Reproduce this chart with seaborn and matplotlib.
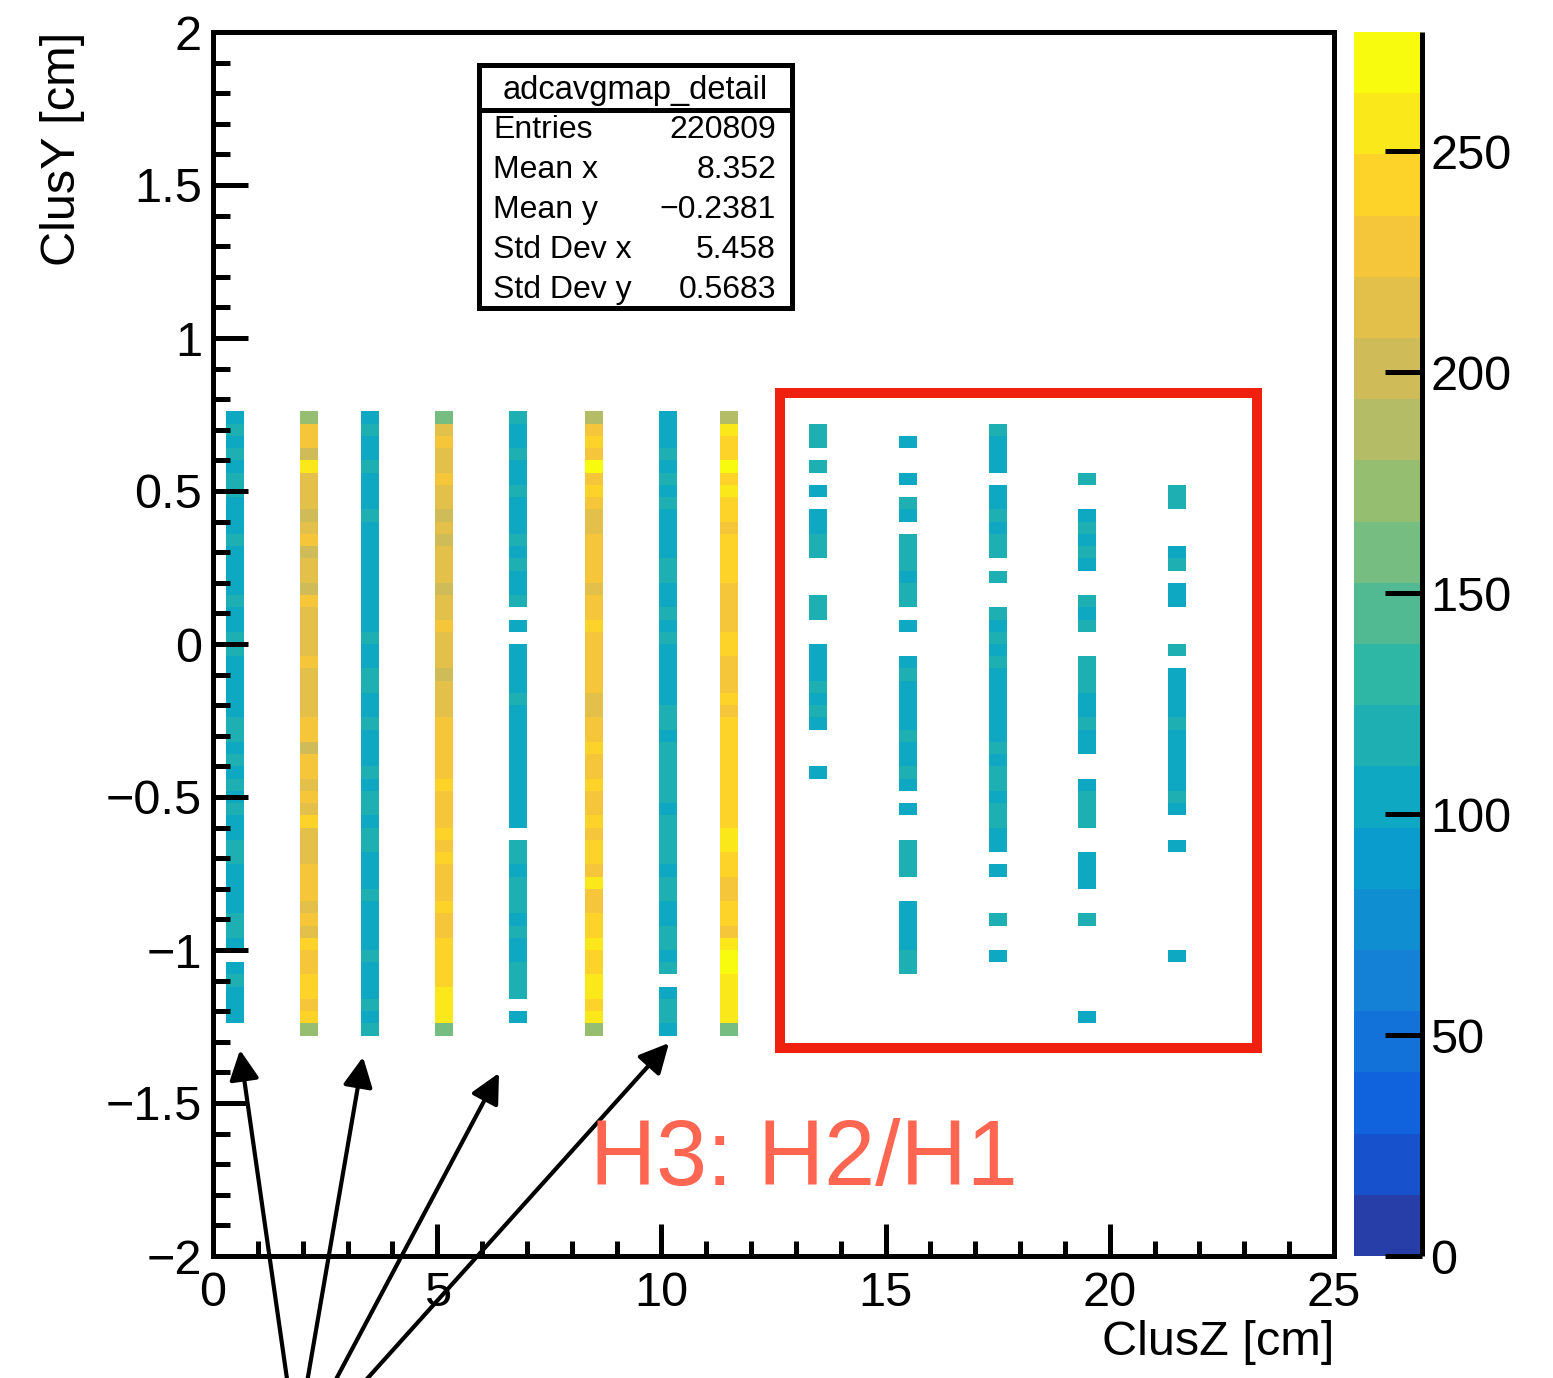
import numpy as np
import pandas as pd
import matplotlib
matplotlib.use("Agg")
import matplotlib.pyplot as plt
from matplotlib.colors import LinearSegmentedColormap, ListedColormap
from matplotlib.patches import Rectangle
from matplotlib.lines import Line2D
import seaborn as sns

NA = np.nan

# ---------------- data ----------------
# ClusZ centre of each column of hits (cm)
col_z = [0.5, 2.15, 3.5, 5.15, 6.8, 8.5, 10.15, 11.5, 13.5, 15.5, 17.5, 19.5, 21.5]
# ClusY binning: 51 bins of 0.04 cm, first bin top edge at 0.76 cm
y_top = 0.76
y_bin = 0.04

col1 = [104, 118, 104, 118, 104, 118, 118, 104, 104, 104,
        118, 104, 104, 104, 104, 118, 104, 104, 118, 118,
        104, 104, 104, 104, 104, 118, 118, 104, 118, 104,
        118, 104, 118, 104, 104, 118, 118, 104, 104, 104,
        104, 118, 118, 104, NA, 104, 118, 104, 104, 104, NA]
col2 = [173, 229, 229, 201, 256, 215, 215, 215, 201, 215,
        229, 201, 215, 215, 201, 229, 215, 215, 215, 215,
        229, 215, 215, 215, 215, 229, 229, 201, 229, 229,
        215, 229, 215, 242, 215, 215, 215, 229, 229, 229,
        215, 229, 215, 242, 229, 229, 242, 242, 229, 242, 173]
col3 = [104, 118, 104, 104, 118, 104, 104, 104, 118, 104,
        104, 104, 104, 104, 104, 104, 104, 104, 118, 104,
        104, 118, 118, 104, 104, 118, 104, 104, 104, 118,
        104, 118, 118, 104, 118, 118, 104, 104, 104, 118,
        104, 104, 104, 104, 118, 104, 104, 104, 118, 104, 118]
col4 = [159, 215, 229, 215, 215, 229, 215, 215, 201, 215,
        201, 215, 215, 215, 201, 215, 215, 229, 215, 215,
        215, 201, 215, 215, 215, 229, 229, 229, 229, 229,
        242, 229, 229, 229, 242, 229, 242, 229, 229, 229,
        242, 229, 229, 242, 242, 242, 242, 256, 256, 256, 159]
col5 = [118, 104, 104, 118, 104, 104, 118, 104, 104, 104,
        118, 104, 118, 104, 104, 118, NA, 104, NA, 104,
        104, 104, 104, 118, 104, 104, 104, 104, 104, 104,
        104, 104, 104, 104, NA, 118, 118, 104, 118, 118,
        118, 104, 118, 104, 104, 118, 118, 118, NA, 104, NA]
col6 = [187, 229, 242, 229, 270, 229, 242, 229, 215, 215,
        229, 229, 229, 229, 215, 229, 229, 242, 229, 229,
        229, 229, 229, 215, 215, 229, 229, 242, 229, 229,
        242, 229, 229, 242, 229, 242, 242, 229, 256, 229,
        229, 242, 242, 256, 242, 242, 256, 256, 242, 256, 173]
col7 = [104, 104, 104, 118, 104, 118, 104, 118, 104, 104,
        104, 104, 118, 118, 104, 104, 118, 104, 118, 104,
        104, 104, 104, 104, 118, 118, 104, 118, 118, 118,
        118, 118, 104, 118, 118, 118, 118, 104, 118, 118,
        104, 104, 118, 118, 104, 118, NA, 104, 118, 118, 104]
col8 = [187, 256, 242, 242, 270, 242, 256, 242, 242, 229,
        242, 242, 242, 242, 229, 229, 229, 229, 242, 242,
        229, 229, 229, 242, 229, 242, 242, 242, 242, 242,
        242, 242, 242, 242, 256, 256, 242, 242, 229, 229,
        242, 242, 229, 256, 270, 270, 256, 256, 256, 256, 159]
col9 = [NA, 118, 118, NA, 118, NA, 104, NA, 104, 104,
        118, 118, NA, NA, NA, 118, 118, NA, NA, 104,
        104, 104, 118, 104, 118, 104, NA, NA, NA, 104,
        NA, NA, NA, NA, NA, NA, NA, NA, NA, NA,
        NA, NA, NA, NA, NA, NA, NA, NA, NA, NA, NA]
col10 = [NA, NA, 104, NA, NA, 104, NA, 118, 104, NA,
         118, 118, 118, 104, 118, 118, NA, 104, NA, NA,
         104, 118, 104, 104, 104, 104, 118, 104, 104, 118,
         104, NA, 104, NA, NA, 118, 118, 118, NA, NA,
         104, 104, 104, 104, 118, 118, NA, NA, NA, NA, NA]
col11 = [NA, 118, 104, 104, 104, NA, 104, 104, 118, 104,
         118, 118, NA, 118, NA, NA, 118, 104, 118, 104,
         118, 104, 104, 104, 104, 104, 104, 118, 104, 118,
         118, 104, 118, 118, 104, 104, NA, 104, NA, NA,
         NA, 118, NA, NA, 104, NA, NA, NA, NA, NA, NA]
col12 = [NA, NA, NA, NA, NA, 118, NA, NA, 104, 118,
         104, 118, 104, NA, NA, 118, 104, 118, NA, NA,
         118, 118, 118, 104, 104, 118, 104, 104, NA, NA,
         104, 118, 118, 118, NA, NA, 104, 104, 104, NA,
         NA, 118, NA, NA, NA, NA, NA, NA, NA, 104, NA]
col13 = [NA, NA, NA, NA, NA, NA, 118, 118, NA, NA,
         NA, 104, 118, NA, 104, 104, NA, NA, NA, 118,
         NA, 104, 104, 104, 104, 118, 104, 104, 104, 104,
         104, 118, 104, NA, NA, 104, NA, NA, NA, NA,
         NA, NA, NA, NA, 104, NA, NA, NA, NA, NA, NA]
columns = [col1, col2, col3, col4, col5, col6, col7, col8, col9, col10, col11, col12, col13]

z_max = 277
cbar_ticks = [0, 50, 100, 150, 200, 250]
x_ticks = [0, 5, 10, 15, 20, 25]
y_ticks = [2, 1.5, 1, 0.5, 0, -0.5, -1, -1.5, -2]
y_tick_labels = ["2", "1.5", "1", "0.5", "0", "\u22120.5", "\u22121", "\u22121.5", "\u22122"]
stats_title = "adcavgmap_detail"
stats_names = ["Entries", "Mean x", "Mean y", "Std Dev x", "Std Dev y"]
stats_values = ["220809", "8.352", "\u22120.2381", "5.458", "0.5683"]
x_title = "ClusZ [cm]"
y_title = "ClusY [cm]"
note_text = "H3: H2/H1"

# ---------------- palette (ROOT kBird, 20 contours) ----------------
bird_stops = [0.0, 0.125, 0.25, 0.375, 0.5, 0.625, 0.75, 0.875, 1.0]
bird_r = [0.2082, 0.0592, 0.0780, 0.0232, 0.1802, 0.5301, 0.8186, 0.9956, 0.9764]
bird_g = [0.1664, 0.3599, 0.5041, 0.6419, 0.7178, 0.7492, 0.7328, 0.7862, 0.9832]
bird_b = [0.5293, 0.8684, 0.8385, 0.7914, 0.6425, 0.4662, 0.3499, 0.1968, 0.0539]
bird = LinearSegmentedColormap.from_list(
    "bird", list(zip(bird_stops, zip(bird_r, bird_g, bird_b))))
n_cont = 20
cmap = ListedColormap([bird((i + 0.99) / n_cont) for i in range(n_cont)])

# ---------------- fine grid for the heatmap ----------------
dx = 0.05
nx = int(round(25 / dx))
ny = int(round(4 / y_bin))
half_w = 0.2
grid = np.full((ny, nx), np.nan)
r0 = int(round((2 - y_top) / y_bin))
for zc, vals in zip(col_z, columns):
    c0 = int(round((zc - half_w) / dx))
    c1 = int(round((zc + half_w) / dx))
    for k, v in enumerate(vals):
        grid[r0 + k, c0:c1] = v
df = pd.DataFrame(grid)

# ---------------- figure ----------------
W, H = 1553, 1378
plt.rcParams["font.family"] = ["Liberation Sans", "DejaVu Sans"]
plt.rcParams["axes.unicode_minus"] = True

def fx(px):
    return px / W

def fy(py):
    return 1 - py / H

fig = plt.figure(figsize=(W / 100, H / 100), dpi=100)
fig.patch.set_facecolor("white")
ax = fig.add_axes([fx(213), fy(1256), fx(1334) - fx(213), fy(32) - fy(1256)])
cax = fig.add_axes([fx(1354), fy(1256), fx(1422) - fx(1354), fy(32) - fy(1256)])

sns.heatmap(df, ax=ax, cbar_ax=cax, cmap=cmap, vmin=0, vmax=z_max,
            xticklabels=False, yticklabels=False,
            cbar_kws={"ticks": cbar_ticks})

ax.set_xlim(0, nx)
ax.set_ylim(ny, 0)
for s in ax.spines.values():
    s.set_visible(True)
    s.set_linewidth(3.6)
    s.set_color("black")

# axis ticks (ROOT style, inward, left & bottom only)
ax.set_xticks([x / dx for x in x_ticks], [str(x) for x in x_ticks])
ax.set_xticks([x / dx for x in range(0, 26) if x % 5], minor=True)
ax.set_yticks([(2 - y) / y_bin for y in y_ticks], y_tick_labels)
y_minor = [round(-2 + 0.1 * i, 2) for i in range(41)]
ax.set_yticks([(2 - y) / y_bin for y in y_minor if abs(y * 2 - round(y * 2)) > 1e-6], minor=True)
ax.tick_params(which="both", direction="in", top=False, right=False,
               left=True, bottom=True, color="black", width=3.6)
ax.tick_params(axis="y", which="major", length=25, pad=8, labelsize=35, rotation=0)
ax.tick_params(axis="y", which="minor", length=12.5)
ax.tick_params(axis="x", which="major", length=23, pad=11, labelsize=35, rotation=0)
ax.tick_params(axis="x", which="minor", length=11)

ax.set_xlabel(x_title, fontsize=35, loc="right")
ax.xaxis.set_label_coords(1.0, -0.052)
ax.set_ylabel(y_title, fontsize=35, loc="top")
ax.yaxis.set_label_coords(-0.114, 1.0)

# colour bar styling
cax.yaxis.set_ticks_position("right")
cax.tick_params(axis="y", which="major", direction="in", length=27, width=3.6,
                labelsize=35, pad=6, color="black")
cax.tick_params(axis="y", which="minor", length=0)
cax.plot([1, 1], [0, 1], transform=cax.transAxes, color="black", lw=3.6,
         clip_on=False, solid_capstyle="butt")

# statistics box
fig.add_artist(Rectangle((fx(479), fy(308)), fx(792) - fx(479), fy(65) - fy(308),
                         transform=fig.transFigure, facecolor="white",
                         edgecolor="black", lw=3.6, zorder=5))
fig.add_artist(Line2D([fx(479), fx(792)], [fy(110), fy(110)],
                      transform=fig.transFigure, color="black", lw=3.6, zorder=6))
fig.text(fx(635), fy(99), stats_title, ha="center", va="baseline", fontsize=23.5, zorder=7)
for i, (n, v) in enumerate(zip(stats_names, stats_values)):
    base = 138 + 40 * i
    fig.text(fx(493), fy(base), n, ha="left", va="baseline", fontsize=23, zorder=7)
    fig.text(fx(776), fy(base), v, ha="right", va="baseline", fontsize=23, zorder=7)

# red highlight box and annotation
fig.add_artist(Rectangle((fx(780), fy(1048)), fx(1257) - fx(780), fy(393) - fy(1048),
                         transform=fig.transFigure, facecolor="none",
                         edgecolor="#F0200E", lw=7.2, zorder=4))
fig.text(fx(590), fy(1185), note_text, ha="left", va="baseline", fontsize=66,
         color="#FF6652", zorder=4)

# arrows pointing to the first columns
arrow_tips = [(240, 1050), (363, 1057), (499, 1073), (669, 1043)]
arrow_tails = [(290, 1400), (304, 1400), (325, 1400), (348, 1400)]
for (tx, ty), (sx, sy) in zip(arrow_tips, arrow_tails):
    ax.annotate("", xy=(tx, H - ty), xycoords="figure pixels",
                xytext=(sx, H - sy), textcoords="figure pixels",
                arrowprops=dict(arrowstyle="-|>", color="black", lw=3,
                                mutation_scale=45, shrinkA=0, shrinkB=0),
                annotation_clip=False)

fig.savefig("out.png", dpi=100)
